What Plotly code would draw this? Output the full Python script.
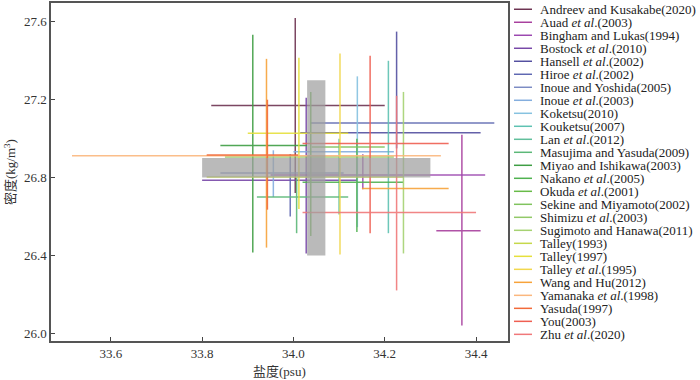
import plotly.graph_objects as go

# ---------------- data ----------------
studies = [
    "Andreev and Kusakabe(2020)", "Auad <i>et al</i>.(2003)", "Bingham and Lukas(1994)",
    "Bostock <i>et al</i>.(2010)", "Hansell <i>et al</i>.(2002)", "Hiroe <i>et al</i>.(2002)",
    "Inoue and Yoshida(2005)", "Inoue <i>et al</i>.(2003)", "Koketsu(2010)", "Kouketsu(2007)",
    "Lan <i>et al</i>.(2012)", "Masujima and Yasuda(2009)", "Miyao and Ishikawa(2003)",
    "Nakano <i>et al</i>.(2005)", "Okuda <i>et al</i>.(2001)", "Sekine and Miyamoto(2002)",
    "Shimizu <i>et al</i>.(2003)", "Sugimoto and Hanawa(2011)", "Talley(1993)", "Talley(1997)",
    "Talley <i>et al</i>.(1995)", "Wang and Hu(2012)", "Yamanaka <i>et al</i>.(1998)",
    "Yasuda(1997)", "You(2003)", "Zhu <i>et al</i>.(2020)",
]
colors = [
    "#6e3452", "#a8409e", "#9c48b0", "#7848a8", "#5450a0", "#5f68b2",
    "#7c8cc4", "#84aede", "#86c2e0", "#5ec2b2", "#62bf9c", "#5cb878",
    "#3f9e44", "#50b250", "#68bb48", "#80c35e", "#92c968", "#a6d272",
    "#c6d84a", "#e6e03c", "#f2d84e", "#f7a33a", "#fbb77e", "#f26a3a",
    "#ef5f52", "#f0787a",
]
# horizontal bars: density level and salinity range (None = no bar)
h_dens = [27.17, 26.527, 26.813, 26.786, 27.03, 27.08, 26.824, 26.933, None, None,
          None, 26.70, 26.965, 26.776, None, 26.957, 26.905, None, 26.803, 27.027,
          None, 26.744, 26.912, 26.916, 26.975, 26.621]
h_sal_lo = [33.82, 34.313, 33.95, 33.80, 34.015, 34.037, 33.84, 34.00, None, None,
            None, 33.92, 33.84, 34.02, None, 34.04, 33.85, None, 33.81, 33.90,
            None, 34.15, 33.515, 33.81, 34.02, 34.02]
h_sal_hi = [34.20, 34.41, 34.42, 34.14, 34.41, 34.44, 34.11, 34.22, None, None,
            None, 34.12, 34.03, 34.24, None, 34.20, 34.22, None, 34.24, 34.12,
            None, 34.34, 34.323, 34.01, 34.34, 34.40]
# vertical bars: salinity and density range
v_sal = [34.004, 34.369, 34.152, 34.028, 34.226, 33.993, None, 33.956, 34.14, 34.208,
         34.10, 34.007, 33.911, 34.139, 34.038, None, None, 34.241, None, 34.012,
         34.102, 33.941, None, 33.943, 34.168, 34.226]
v_dens_lo = [26.72, 26.04, 26.74, 26.41, 26.95, 26.60, None, 26.70, 26.545, 26.514,
             26.61, 26.514, 26.415, 26.52, 26.50, None, None, 26.41, None, 26.638,
             26.405, 26.44, None, 26.635, 26.514, 26.22]
v_dens_hi = [27.62, 27.02, 26.92, 27.21, 27.55, 26.92, None, 26.94, 27.32, 27.40,
             27.00, 26.80, 27.534, 27.00, 27.24, None, None, 27.24, None, 27.416,
             27.438, 27.41, None, 27.20, 27.426, 27.22]
# gray reference boxes (salinity range, density range)
box_sal_lo = [33.80, 34.03]
box_sal_hi = [34.30, 34.07]
box_dens_lo = [26.80, 26.40]
box_dens_hi = [26.90, 27.30]

x_ticks = [33.6, 33.8, 34.0, 34.2, 34.4]
y_ticks = [26.0, 26.4, 26.8, 27.2, 27.6]

# ---------------- figure ----------------
W, H = 700, 380
L, R, T, B = 51, 508, 1, 341

fig = go.Figure()
for i, name in enumerate(studies):
    xs, ys = [], []
    if h_dens[i] is not None:
        xs += [h_sal_lo[i], h_sal_hi[i], None]
        ys += [h_dens[i], h_dens[i], None]
    if v_sal[i] is not None:
        xs += [v_sal[i], v_sal[i], None]
        ys += [v_dens_lo[i], v_dens_hi[i], None]
    fig.add_trace(go.Scatter(x=xs, y=ys, mode="lines", name=name,
                             line=dict(color=colors[i], width=1.5),
                             opacity=0.9, showlegend=False, hoverinfo="skip"))

for j in range(len(box_sal_lo)):
    fig.add_shape(type="rect", xref="x", yref="y", layer="above",
                  x0=box_sal_lo[j], x1=box_sal_hi[j], y0=box_dens_lo[j], y1=box_dens_hi[j],
                  fillcolor="rgba(160,160,160,0.72)", line=dict(width=0))

# manual legend
def px_x(px):
    return (px - L) / (R - L)

def px_y(py):
    return (B - py) / (B - T)

y0, dy = 7.3, 13.08
for i, name in enumerate(studies):
    yy = px_y(y0 + i * dy)
    fig.add_shape(type="line", xref="paper", yref="paper",
                  x0=px_x(514), x1=px_x(532), y0=yy, y1=yy,
                  line=dict(color=colors[i], width=1.5))
    fig.add_annotation(xref="paper", yref="paper", x=px_x(539), y=yy,
                       xanchor="left", yanchor="middle", showarrow=False, borderpad=0,
                       text=name, font=dict(family="Liberation Serif", size=13, color="#222"))

fig.add_annotation(xref="paper", yref="paper", x=0.5, y=px_y(372),
                   xanchor="center", yanchor="middle", showarrow=False,
                   text="盐度(psu)",
                   font=dict(family="Liberation Serif, Noto Sans CJK SC", size=13, color="#333"))
fig.add_annotation(xref="paper", yref="paper", x=px_x(10), y=0.5,
                   xanchor="center", yanchor="middle", showarrow=False, textangle=-90,
                   text="密度(kg/m<sup>3</sup>)",
                   font=dict(family="Liberation Serif, Noto Sans CJK SC", size=13, color="#333"))

axis_common = dict(showline=True, mirror=True, linecolor="#555", linewidth=1.5,
                   ticks="inside", ticklen=4, tickwidth=1.2, tickcolor="#444",
                   showgrid=False, zeroline=False, tickformat=".1f",
                   tickfont=dict(family="Liberation Serif", size=13, color="#333"))
fig.update_layout(
    width=W, height=H,
    margin=dict(l=L, r=W - R, t=T, b=H - B),
    plot_bgcolor="white", paper_bgcolor="white",
    xaxis=dict(range=[33.469, 34.47], tickvals=x_ticks, **axis_common),
    yaxis=dict(range=[25.96, 27.697], tickvals=y_ticks, **axis_common),
    showlegend=False,
)
fig.write_html("out.html", config={"displayModeBar": False},
               post_script="document.body.style.margin='0';")
